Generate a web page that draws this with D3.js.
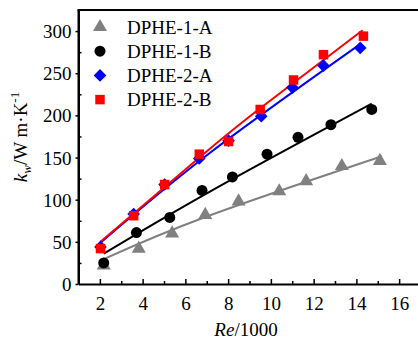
<!DOCTYPE html>
<html><head><meta charset="utf-8">
<script src="https://cdn.jsdelivr.net/npm/d3@7"></script>
<style>body{margin:0;background:#fff}svg{display:block}text{font-family:"Liberation Serif","Times New Roman",serif;fill:#000}</style>
</head><body>
<svg id="c" width="418" height="342"></svg>
<script>
// Data
const seriesNames = ["DPHE-1-A","DPHE-1-B","DPHE-2-A","DPHE-2-B"];
const re1A = [2.18,3.82,5.38,6.93,8.49,10.39,11.65,13.32,15.1];
const k1A  = [22,42,60,82,98,110,122,140,146];
const re1B = [2.18,3.71,5.27,6.78,8.2,9.82,11.27,12.81,14.72];
const k1B  = [25,61,79,111,127,154,174,189,207];
const re2A = [2.03,3.58,5.03,6.65,8.02,9.55,11.01,12.46,14.18];
const k2A  = [44,83,118,149,170,199,233,259,280];
const re2B = [2.03,3.58,5.03,6.65,8.02,9.5,11.06,12.46,14.33];
const k2B  = [42,81,118,154,169,207,242,272,294];
// fitted curves
const fit1Are = [2.18,7.0,15.2];   const fit1Ak = [29.5,80,151.5];
const fit1Bre = [2.18,7.17,14.72]; const fit1Bk = [36,110,214];
const fit2Are = [2.03,7.17,14.15]; const fit2Ak = [49,156,284];
const fit2Bre = [2.03,6.70,9.5,14.29]; const fit2Bk = [50,151,208.5,301];
const xTicks = [2,4,6,8,10,12,14,16];
const yTicks = [0,50,100,150,200,250,300];

const colors = ["#808080","#000000","#0000ff","#ff0000"];
const symbols = [d3.symbolTriangle, d3.symbolCircle, d3.symbolSquare, d3.symbolSquare];
const symSize = [85, 95, 80, 90];
const symRot = [0, 0, 45, 0];

const L=78.5, T=10, R=420.5, B=284;
const x = d3.scaleLinear().domain([1,17]).range([L,R]);
const y = d3.scaleLinear().domain([0,325]).range([B,T]);
const svg = d3.select("#c");

const data = [
  {re:re1A,k:k1A,fr:fit1Are,fk:fit1Ak},
  {re:re1B,k:k1B,fr:fit1Bre,fk:fit1Bk},
  {re:re2A,k:k2A,fr:fit2Are,fk:fit2Ak},
  {re:re2B,k:k2B,fr:fit2Bre,fk:fit2Bk}
];

// fit lines
const line = d3.line().x(d=>x(d[0])).y(d=>y(d[1])).curve(d3.curveNatural);
data.forEach((s,i)=>{
  svg.append("path").attr("d", line(s.fr.map((r,j)=>[r,s.fk[j]])))
    .attr("fill","none").attr("stroke",colors[i]).attr("stroke-width",2);
});
// markers
data.forEach((s,i)=>{
  const sym = d3.symbol().type(symbols[i]).size(symSize[i]);
  svg.append("g").selectAll("path").data(s.re.map((r,j)=>[r,s.k[j]])).join("path")
    .attr("d", sym).attr("transform", d=>`translate(${x(d[0])},${y(d[1])}) rotate(${symRot[i]})`)
    .attr("fill", colors[i]);
});

// axes
const xAxis = d3.axisBottom(x).tickValues(xTicks).tickSize(-5).tickPadding(13).tickSizeOuter(0);
const gx = svg.append("g").attr("transform",`translate(0,${B})`).call(xAxis);
const xMinor = d3.axisBottom(x).tickValues(d3.range(3,17,2)).tickSize(-3).tickFormat("").tickSizeOuter(0);
svg.append("g").attr("transform",`translate(0,${B})`).call(xMinor).select(".domain").remove();
const yAxis = d3.axisLeft(y).tickValues(yTicks).tickSize(3).tickPadding(4).tickSizeOuter(0);
const gy = svg.append("g").attr("transform",`translate(${L},0)`).call(yAxis);
const yMinor = d3.axisLeft(y).tickValues(d3.range(25,325,50)).tickSize(-3).tickFormat("").tickSizeOuter(0);
svg.append("g").attr("transform",`translate(${L},0)`).call(yMinor).select(".domain").remove();
svg.selectAll(".tick line").attr("stroke","#000").attr("stroke-width",1.5);
svg.selectAll(".domain").attr("stroke","#000").attr("stroke-width",2);
svg.selectAll(".tick text").style("font-size","19px").style("font-family","Liberation Serif");
gx.selectAll(".tick text").attr("dy","0.71em");
gy.selectAll(".tick text").attr("dy","0.34em");
// top border
svg.append("line").attr("x1",L-1).attr("x2",418).attr("y1",T).attr("y2",T).attr("stroke","#000").attr("stroke-width",2);
svg.append("line").attr("x1",L).attr("x2",L).attr("y1",T).attr("y2",B).attr("stroke","#000").attr("stroke-width",2);

// legend
seriesNames.forEach((n,i)=>{
  const yy = 27 + i*24.2;
  svg.append("path").attr("d", d3.symbol().type(symbols[i]).size(symSize[i])())
    .attr("transform",`translate(100,${yy}) rotate(${symRot[i]})`).attr("fill",colors[i]);
  svg.append("text").attr("x",127).attr("y",yy).attr("dy","0.35em")
    .style("font-size","19px").text(n);
});

// axis titles
const xt = svg.append("text").attr("x",246).attr("y",336).attr("text-anchor","middle").style("font-size","19px");
xt.append("tspan").style("font-style","italic").text("Re");
xt.append("tspan").text("/1000");

const yt = svg.append("text").attr("transform","translate(27,137) rotate(-90)").attr("text-anchor","middle").style("font-size","19px");
yt.append("tspan").style("font-style","italic").text("k");
yt.append("tspan").style("font-style","italic").style("font-size","13px").attr("dy",4).text("w");
yt.append("tspan").attr("dy",-4).text("/W m\u00b7K");
yt.append("tspan").style("font-size","13px").attr("dy",-8).text("-1");
</script>
</body></html>
